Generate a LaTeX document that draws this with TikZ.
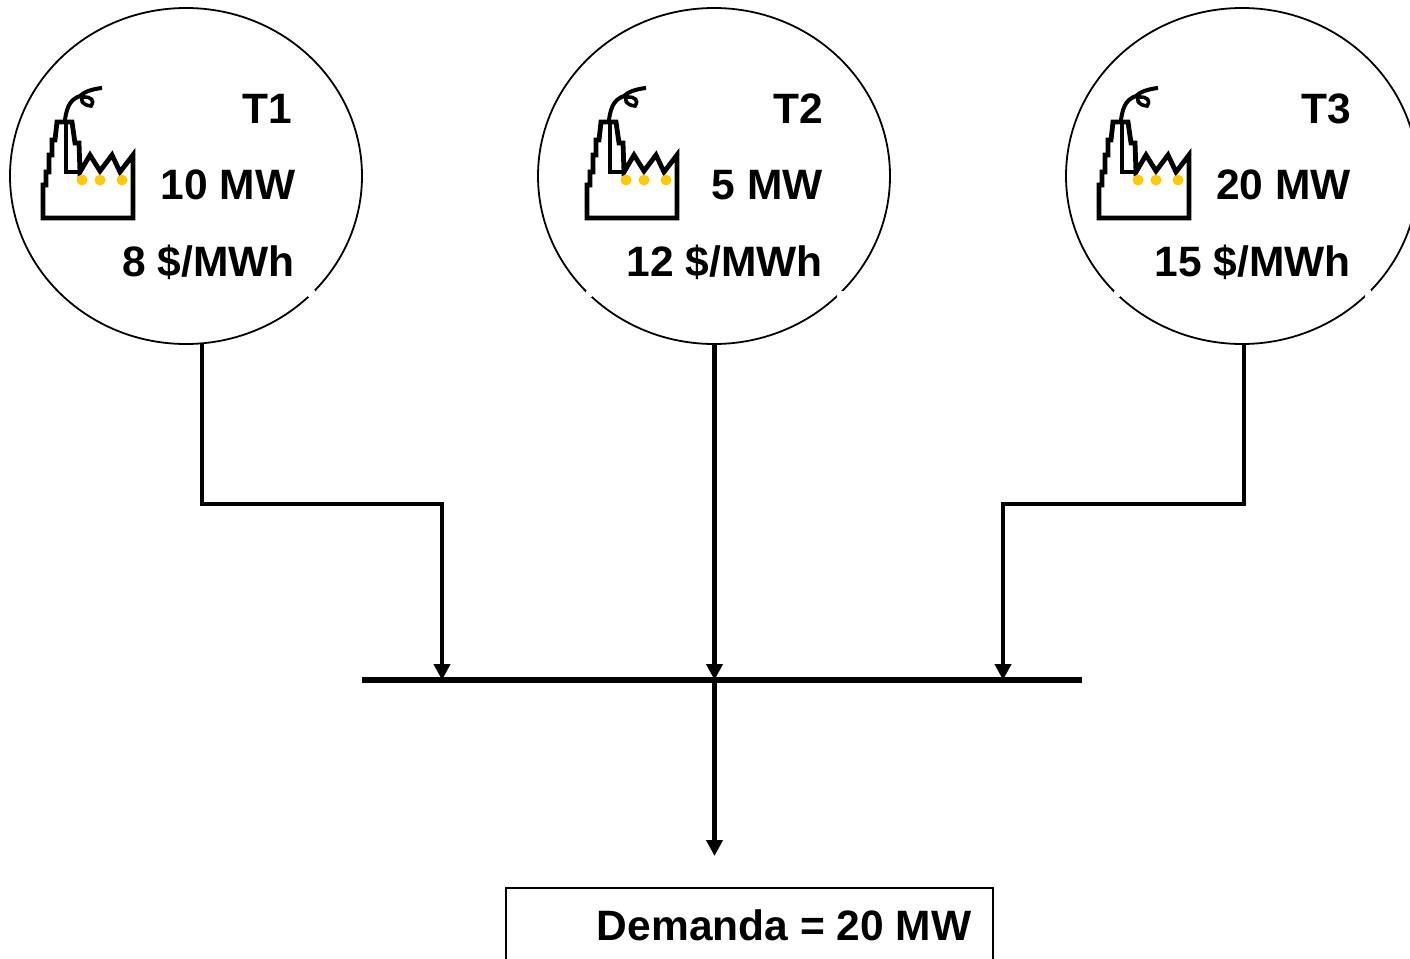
\documentclass[tikz,border=0pt]{standalone}
\usepackage{fontspec}
\setmainfont{Liberation Sans}
\usepackage{tikz}
\usetikzlibrary{shapes.geometric,arrows.meta}

\definecolor{lamp}{RGB}{255,200,10}

\tikzset{
	plant/.style = {ellipse, draw, line width = 1.8pt, minimum width = 352pt, minimum height = 336pt, inner sep = 0pt},
	label/.style = {anchor = base east, inner sep = 0pt, font = \fontsize{42.5}{50}\bfseries},
	wire/.style = {line width = 4.7pt},
	feed/.style = {wire, -{Triangle[length = 16pt, width = 16pt]}},
	gap/.style = {fill = white, draw = none, minimum size = 6.5pt, inner sep = 0pt, outer sep = 0pt},
	factory/.pic = {
		\draw[line width = 4.8pt, line join = miter, fill = white]
			(43,218) -- (43,185) -- (46,185) -- (46,172) -- (49,172) -- (49,155) -- (52,155)
			-- (52,140) -- (55,140) -- (57,122) -- (72,122) -- (75,143) -- (79,143) -- (80,172)
			-- (90,155) -- (100,171) -- (112,155) -- (120,172) -- (133,155) -- (133,218) -- cycle;
		\draw[line width = 4pt] (66,122) -- (66,172) -- (80,172);
		\draw[line width = 4pt] (65,120) .. controls (67,104) and (72,99) .. (80,96)
			.. controls (84,92) and (92,89) .. (102,88);
		\draw[line width = 3.6pt] (84,95) .. controls (79,100) and (82,105) .. (91,106)
			.. controls (95,100) and (91,97) .. (84,97);
		\foreach \dotx in {82,100,122}
			\fill[lamp] (\dotx,180) circle (5.5pt);
	}
}

\begin{document}
\begin{tikzpicture}[x = 1pt, y = -1pt]
\useasboundingbox (0,0) rectangle (1410,958);

% plants
\node[plant] (t1) at (186,176) {};
\node[plant] (t2) at (714,176) {};
\node[plant] (t3) at (1242,176) {};
\node[gap] (g1) at (311.5,293.5) {};
\node[gap] (g2) at (589,294) {};
\node[gap] (g3) at (840.5,294.5) {};
\node[gap] (g4) at (1117,294) {};
\node[gap] (g5) at (1368,293.5) {};

\pic at (0,0) {factory};
\pic at (544,0) {factory};
\pic at (1056,0) {factory};

\node[label] (n1) at (292,123) {T1};
\node[label] (p1) at (295.5,199.5) {10 MW};
\node[label] (c1) at (295,276) {8 \$/MWh};
\node[label] (n2) at (823,123) {T2};
\node[label] (p2) at (823,199.5) {5 MW};
\node[label] (c2) at (823,276) {12 \$/MWh};
\node[label] (n3) at (1351,123) {T3};
\node[label] (p3) at (1351,199.5) {20 MW};
\node[label] (c3) at (1351,276) {15 \$/MWh};

% bus and feeders
\coordinate (busl) at (362,680);
\coordinate (busr) at (1082,680);
\coordinate (in1) at (442,680);
\coordinate (in2) at (714.5,680);
\coordinate (in3) at (1003,680);
\coordinate (out1) at (202,344);
\coordinate (out2) at (714.5,344);
\coordinate (out3) at (1244,344);
\coordinate (end) at (714.5,856);
\draw[wire, line width = 5.4pt] (busl) -- (busr);
\draw[feed] (out1) -- (202,504) -- (442,504) -- (in1);
\draw[feed] (out2) -- (in2);
\draw[feed] (out3) -- (1244,504) -- (1003,504) -- (in3);
\draw[feed] (in2) -- (end);

% demand
\node[draw, line width = 2pt, minimum width = 487pt, minimum height = 120pt, anchor = north west, outer sep = 0pt] (demand) at (506,888) {};
\node[label] (dl) at (971.5,940) {Demanda = 20 MW};
\end{tikzpicture}
\end{document}
